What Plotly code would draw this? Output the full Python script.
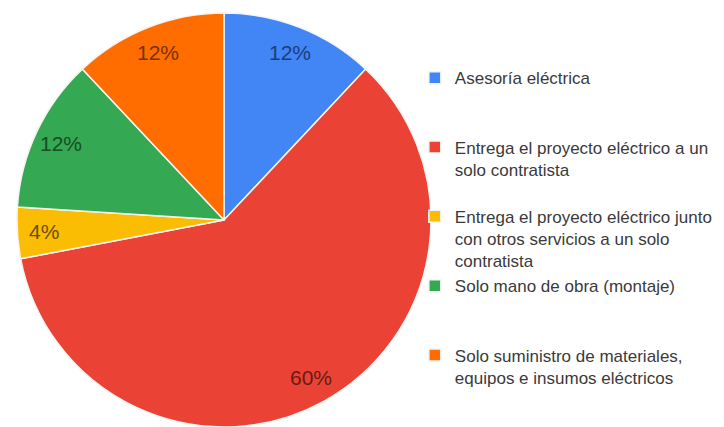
import math
import plotly.graph_objects as go

# Survey answers and their share of respondents (%)
categories = [
    "Asesoría eléctrica",
    "Entrega el proyecto eléctrico a un<br>solo contratista",
    "Entrega el proyecto eléctrico junto<br>con otros servicios a un solo<br>contratista",
    "Solo mano de obra (montaje)",
    "Solo suministro de materiales,<br>equipos e insumos eléctricos",
]
shares = [12, 60, 4, 12, 12]

slice_colors = ["#4285F4", "#EA4335", "#FBBC04", "#34A853", "#FF6D01"]
label_colors = ["#1b3d80", "#6a1a14", "#6b4f00", "#174d26", "#7a3100"]

W, H = 724, 427
# pie placement in pixels: centre and radius
CX, CY, R = 224, 220, 207

# every legend entry takes three text lines so the entries are evenly spaced
legend_names = []
for name in categories:
    n_lines = name.count("<br>") + 1
    legend_names.append(name + "<br> " * (3 - n_lines))

fig = go.Figure(
    go.Pie(
        labels=legend_names,
        values=shares,
        sort=False,
        direction="clockwise",
        rotation=0,
        marker=dict(colors=slice_colors, line=dict(color="#f4f4f4", width=1.5)),
        textinfo="none",
        domain=dict(x=[(CX - R) / W, (CX + R) / W], y=[1 - (CY + R) / H, 1 - (CY - R) / H]),
        hoverinfo="label+percent",
    )
)

# percentage labels placed near the rim, at the middle angle of each slice
total = sum(shares)
start = 0.0
for share, color in zip(shares, label_colors):
    sweep = 360.0 * share / total
    mid = math.radians(start + sweep / 2)
    r_lab = 0.87 * R
    fig.add_annotation(
        x=(CX + r_lab * math.sin(mid)) / W,
        y=1 - (CY - r_lab * math.cos(mid)) / H,
        xref="paper",
        yref="paper",
        text=f"{round(100 * share / total)}%",
        showarrow=False,
        xanchor="center",
        yanchor="middle",
        font=dict(family="Liberation Sans, Arial, sans-serif", size=21, color=color),
    )
    start += sweep

fig.update_layout(
    width=W,
    height=H,
    margin=dict(l=0, r=0, t=0, b=0),
    paper_bgcolor="white",
    plot_bgcolor="white",
    font=dict(family="Liberation Sans, Arial, sans-serif"),
    legend=dict(
        x=0.573,
        xanchor="left",
        y=0.859,
        yanchor="top",
        valign="top",
        font=dict(size=17, color="#3a3a3a"),
        bgcolor="rgba(0,0,0,0)",
        itemclick=False,
    ),
)

fig.write_html("out.html")
